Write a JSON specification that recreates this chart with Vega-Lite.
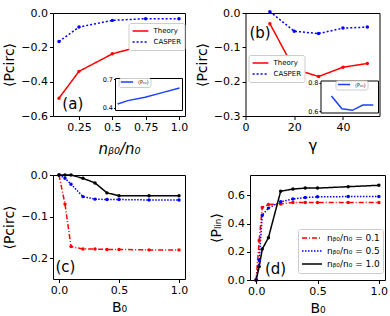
{
"$schema":"https://vega.github.io/schema/vega-lite/v6.json",
"padding":{"left":2,"top":6,"right":0,"bottom":0},
"config":{
 "font":"DejaVu Sans",
 "view":{"stroke":"black","strokeWidth":1},
 "axis":{"grid":false,"domain":false,"tickColor":"black","labelColor":"black","titleColor":"black","labelFontSize":11,"titleFontSize":14,"titleFontWeight":"normal","tickSize":3.5,"labelPadding":2,"labelFlush":false,"labelOverlap":false,"tickCount":10},
 "legend":{"labelFont":"DejaVu Sans","fillColor":"white","strokeColor":"#cccccc","cornerRadius":2,"padding":3,"symbolType":"stroke","symbolStrokeWidth":1.5,"labelColor":"black","rowPadding":1,"labelOffset":4}
},
"datasets":{
 "a_main":[
  {"series":"Theory","x":0.1,"y":-0.496},{"series":"Theory","x":0.25,"y":-0.34},{"series":"Theory","x":0.5,"y":-0.238},{"series":"Theory","x":0.75,"y":-0.186},{"series":"Theory","x":1.0,"y":-0.166},
  {"series":"CASPER","x":0.1,"y":-0.166},{"series":"CASPER","x":0.25,"y":-0.082},{"series":"CASPER","x":0.5,"y":-0.043},{"series":"CASPER","x":0.75,"y":-0.033},{"series":"CASPER","x":1.0,"y":-0.033}
 ],
 "a_inset":[
  {"series":"⟨Pₗᵢₙ⟩","x":0.1,"y":0.44},{"series":"⟨Pₗᵢₙ⟩","x":0.25,"y":0.475},{"series":"⟨Pₗᵢₙ⟩","x":0.5,"y":0.51},{"series":"⟨Pₗᵢₙ⟩","x":0.75,"y":0.56},{"series":"⟨Pₗᵢₙ⟩","x":1.0,"y":0.61}
 ],
 "b_main":[
  {"series":"Theory","x":10,"y":-0.031},{"series":"Theory","x":20,"y":-0.163},{"series":"Theory","x":30,"y":-0.185},{"series":"Theory","x":40,"y":-0.158},{"series":"Theory","x":50,"y":-0.147},
  {"series":"CASPER","x":10,"y":0.004},{"series":"CASPER","x":20,"y":-0.053},{"series":"CASPER","x":30,"y":-0.06},{"series":"CASPER","x":40,"y":-0.044},{"series":"CASPER","x":50,"y":-0.041}
 ],
 "b_inset":[
  {"series":"⟨Pₗᵢₙ⟩","x":10,"y":0.706},{"series":"⟨Pₗᵢₙ⟩","x":20,"y":0.616},{"series":"⟨Pₗᵢₙ⟩","x":30,"y":0.605},{"series":"⟨Pₗᵢₙ⟩","x":40,"y":0.642},{"series":"⟨Pₗᵢₙ⟩","x":50,"y":0.642}
 ],
 "c":[
  {"series":"nᵦ₀/n₀ = 0.1","x":0,"y":0},{"series":"nᵦ₀/n₀ = 0.1","x":0.05,"y":-0.07},{"series":"nᵦ₀/n₀ = 0.1","x":0.1,"y":-0.172},{"series":"nᵦ₀/n₀ = 0.1","x":0.2,"y":-0.178},{"series":"nᵦ₀/n₀ = 0.1","x":0.3,"y":-0.178},{"series":"nᵦ₀/n₀ = 0.1","x":0.4,"y":-0.179},{"series":"nᵦ₀/n₀ = 0.1","x":0.5,"y":-0.179},{"series":"nᵦ₀/n₀ = 0.1","x":0.75,"y":-0.18},{"series":"nᵦ₀/n₀ = 0.1","x":1.0,"y":-0.18},
  {"series":"nᵦ₀/n₀ = 0.5","x":0,"y":0},{"series":"nᵦ₀/n₀ = 0.5","x":0.05,"y":-0.008},{"series":"nᵦ₀/n₀ = 0.5","x":0.1,"y":-0.022},{"series":"nᵦ₀/n₀ = 0.5","x":0.2,"y":-0.052},{"series":"nᵦ₀/n₀ = 0.5","x":0.3,"y":-0.058},{"series":"nᵦ₀/n₀ = 0.5","x":0.4,"y":-0.059},{"series":"nᵦ₀/n₀ = 0.5","x":0.5,"y":-0.059},{"series":"nᵦ₀/n₀ = 0.5","x":0.75,"y":-0.06},{"series":"nᵦ₀/n₀ = 0.5","x":1.0,"y":-0.06},
  {"series":"nᵦ₀/n₀ = 1.0","x":0,"y":0},{"series":"nᵦ₀/n₀ = 1.0","x":0.05,"y":0},{"series":"nᵦ₀/n₀ = 1.0","x":0.1,"y":0},{"series":"nᵦ₀/n₀ = 1.0","x":0.2,"y":-0.008},{"series":"nᵦ₀/n₀ = 1.0","x":0.3,"y":-0.019},{"series":"nᵦ₀/n₀ = 1.0","x":0.4,"y":-0.043},{"series":"nᵦ₀/n₀ = 1.0","x":0.5,"y":-0.05},{"series":"nᵦ₀/n₀ = 1.0","x":0.75,"y":-0.05},{"series":"nᵦ₀/n₀ = 1.0","x":1.0,"y":-0.05}
 ],
 "d":[
  {"series":"nᵦ₀/n₀ = 0.1","x":0,"y":0},{"series":"nᵦ₀/n₀ = 0.1","x":0.025,"y":0.28},{"series":"nᵦ₀/n₀ = 0.1","x":0.05,"y":0.515},{"series":"nᵦ₀/n₀ = 0.1","x":0.1,"y":0.535},{"series":"nᵦ₀/n₀ = 0.1","x":0.2,"y":0.54},{"series":"nᵦ₀/n₀ = 0.1","x":0.3,"y":0.55},{"series":"nᵦ₀/n₀ = 0.1","x":0.4,"y":0.55},{"series":"nᵦ₀/n₀ = 0.1","x":0.5,"y":0.55},{"series":"nᵦ₀/n₀ = 0.1","x":0.75,"y":0.55},{"series":"nᵦ₀/n₀ = 0.1","x":1.0,"y":0.55},
  {"series":"nᵦ₀/n₀ = 0.5","x":0,"y":0},{"series":"nᵦ₀/n₀ = 0.5","x":0.025,"y":0.14},{"series":"nᵦ₀/n₀ = 0.5","x":0.05,"y":0.46},{"series":"nᵦ₀/n₀ = 0.5","x":0.1,"y":0.51},{"series":"nᵦ₀/n₀ = 0.5","x":0.2,"y":0.555},{"series":"nᵦ₀/n₀ = 0.5","x":0.3,"y":0.575},{"series":"nᵦ₀/n₀ = 0.5","x":0.4,"y":0.585},{"series":"nᵦ₀/n₀ = 0.5","x":0.5,"y":0.59},{"series":"nᵦ₀/n₀ = 0.5","x":0.75,"y":0.592},{"series":"nᵦ₀/n₀ = 0.5","x":1.0,"y":0.592},
  {"series":"nᵦ₀/n₀ = 1.0","x":0,"y":0},{"series":"nᵦ₀/n₀ = 1.0","x":0.025,"y":0.095},{"series":"nᵦ₀/n₀ = 1.0","x":0.05,"y":0.22},{"series":"nᵦ₀/n₀ = 1.0","x":0.1,"y":0.3},{"series":"nᵦ₀/n₀ = 1.0","x":0.2,"y":0.63},{"series":"nᵦ₀/n₀ = 1.0","x":0.3,"y":0.645},{"series":"nᵦ₀/n₀ = 1.0","x":0.4,"y":0.652},{"series":"nᵦ₀/n₀ = 1.0","x":0.5,"y":0.652},{"series":"nᵦ₀/n₀ = 1.0","x":0.75,"y":0.662},{"series":"nᵦ₀/n₀ = 1.0","x":1.0,"y":0.672}
 ]
},
"spacing":11,
"resolve":{"scale":{"color":"independent","strokeDash":"independent"},"legend":{"color":"independent","strokeDash":"independent"}},
"vconcat":[
 {"bounds":"flush","spacing":60.5,
  "resolve":{"scale":{"color":"independent","strokeDash":"independent"},"legend":{"color":"independent","strokeDash":"independent"}},
  "hconcat":[
  {"width":132,"height":103,
   "resolve":{"scale":{"x":"independent","y":"independent","color":"independent"},"legend":{"color":"independent"}},
   "layer":[
    {"layer":[
     {"data":{"name":"a_main"},"mark":{"type":"line","strokeWidth":1.5,"point":{"filled":true,"size":12}},
      "encoding":{
       "x":{"field":"x","type":"quantitative","scale":{"domain":[0.055,1.045],"nice":false,"zero":false},"axis":{"values":[0.25,0.5,0.75,1],"tickCount":10,"labelOverlap":false,"labelExpr":"datum.value==1?'1.0':format(datum.value,'.2~f')","title":"nᵦ₀/n₀","titleFontStyle":"italic","titleFontSize":15,"titlePadding":9}},
       "y":{"field":"y","type":"quantitative","scale":{"domain":[-0.6,0],"nice":false},"axis":{"values":[-0.6,-0.4,-0.2,0],"tickCount":10,"labelOverlap":false,"format":".1f","title":"⟨Pcirc⟩","titlePadding":4}},
       "color":{"field":"series","type":"nominal","scale":{"domain":["Theory","CASPER"],"range":["#ff0000","#0000ff"]},"title":null,"legend":{"orient":"none","legendX":75.5,"legendY":10,"labelFontSize":7,"symbolSize":250,"clipHeight":10,"encode":{"symbols":{"update":{"strokeDash":{"signal":"datum.value=='CASPER'?[2,2]:[1,0]"}}}}}},
       "strokeDash":{"field":"series","type":"nominal","scale":{"domain":["Theory","CASPER"],"range":[[1,0],[2,2]]},"legend":null}
      }},
     {"data":{"values":[{"label":"(a)"}]},"mark":{"type":"text","align":"left","baseline":"middle","fontSize":15,"color":"black"},
      "encoding":{"x":{"datum":0.125,"type":"quantitative"},"y":{"datum":-0.53,"type":"quantitative"},"text":{"field":"label"}}}
    ]},
    {"layer":[
     {"data":{"values":[{"box":1}]},"mark":{"type":"rect","fill":"white","stroke":"black","strokeWidth":1},
      "encoding":{
       "x":{"datum":0.07,"type":"quantitative","scale":{"domain":[0.07,1.043],"range":[62.5,129.5],"nice":false,"zero":false},"axis":null},
       "x2":{"datum":1.043},
       "y":{"datum":0.37,"type":"quantitative","scale":{"domain":[0.37,0.71],"range":[97.5,65.5],"nice":false,"zero":false},"axis":{"orient":"left","offset":-62.5,"values":[0.4,0.7],"labelOverlap":false,"format":".1f","labelFontSize":6.5,"tickSize":2,"labelPadding":1,"title":null}},
       "y2":{"datum":0.71}
      }},
     {"data":{"name":"a_inset"},"mark":{"type":"line","strokeWidth":1.5},
      "encoding":{"x":{"field":"x","type":"quantitative"},"y":{"field":"y","type":"quantitative"},
       "color":{"field":"series","type":"nominal","scale":{"range":["#1f3fff"]},"title":null,"legend":{"orient":"none","legendX":65.5,"legendY":65,"labelFontSize":5,"symbolSize":150,"clipHeight":5,"padding":1.5}}}}
    ]}
   ]},
  {"width":134,"height":103,
   "resolve":{"scale":{"x":"independent","y":"independent","color":"independent"},"legend":{"color":"independent"}},
   "layer":[
    {"layer":[
     {"data":{"name":"b_main"},"mark":{"type":"line","strokeWidth":1.5,"point":{"filled":true,"size":12}},
      "encoding":{
       "x":{"field":"x","type":"quantitative","scale":{"domain":[0,55],"nice":false,"zero":false},"axis":{"values":[0,20,40],"tickCount":10,"labelOverlap":false,"format":"d","title":"γ","titleFontSize":15,"titlePadding":6}},
       "y":{"field":"y","type":"quantitative","scale":{"domain":[-0.3,0],"nice":false},"axis":{"values":[-0.3,-0.2,-0.1,0],"tickCount":10,"labelOverlap":false,"format":".1f","title":"⟨Pcirc⟩","titlePadding":4}},
       "color":{"field":"series","type":"nominal","scale":{"domain":["Theory","CASPER"],"range":["#ff0000","#0000ff"]},"title":null,"legend":{"orient":"none","legendX":3,"legendY":42,"labelFontSize":7,"symbolSize":250,"clipHeight":10,"encode":{"symbols":{"update":{"strokeDash":{"signal":"datum.value=='CASPER'?[2,2]:[1,0]"}}}}}},
       "strokeDash":{"field":"series","type":"nominal","scale":{"domain":["Theory","CASPER"],"range":[[1,0],[2,2]]},"legend":null}
      }},
     {"data":{"values":[{"label":"(b)"}]},"mark":{"type":"text","align":"left","baseline":"middle","fontSize":15,"color":"black"},
      "encoding":{"x":{"datum":1.6,"type":"quantitative"},"y":{"datum":-0.057,"type":"quantitative"},"text":{"field":"label"}}}
    ]},
    {"layer":[
     {"data":{"values":[{"box":1}]},"mark":{"type":"rect","fill":"white","stroke":"black","strokeWidth":1},
      "encoding":{
       "x":{"datum":0,"type":"quantitative","scale":{"domain":[0,55],"range":[75.5,133],"nice":false,"zero":false},"axis":null},
       "x2":{"datum":55},
       "y":{"datum":0.586,"type":"quantitative","scale":{"domain":[0.586,0.812],"range":[100,68],"nice":false,"zero":false},"axis":{"orient":"left","offset":-75.5,"values":[0.6,0.8],"labelOverlap":false,"format":".1f","labelFontSize":6.5,"tickSize":2,"labelPadding":1,"title":null}},
       "y2":{"datum":0.812}
      }},
     {"data":{"name":"b_inset"},"mark":{"type":"line","strokeWidth":1.5},
      "encoding":{"x":{"field":"x","type":"quantitative"},"y":{"field":"y","type":"quantitative"},
       "color":{"field":"series","type":"nominal","scale":{"range":["#1f3fff"]},"title":null,"legend":{"orient":"none","legendX":90,"legendY":67.5,"labelFontSize":5,"symbolSize":150,"clipHeight":5,"padding":1.5}}}}
    ]}
   ]}
 ]},
 {"bounds":"flush","spacing":65,
  "resolve":{"scale":{"color":"independent","strokeDash":"independent"},"legend":{"color":"independent","strokeDash":"independent"}},
  "hconcat":[
  {"width":132,"height":104,
   "layer":[
     {"data":{"name":"c"},"mark":{"type":"line","strokeWidth":1.5,"point":{"filled":true,"size":12}},
      "encoding":{
       "x":{"field":"x","type":"quantitative","scale":{"domain":[-0.05,1.05],"nice":false,"zero":false},"axis":{"values":[0,0.5,1],"tickCount":10,"labelOverlap":false,"format":".1f","title":"B₀","titleFontSize":14,"titlePadding":5}},
       "y":{"field":"y","type":"quantitative","scale":{"domain":[-0.25,0],"nice":false},"axis":{"values":[-0.2,-0.1,0],"tickCount":10,"labelOverlap":false,"format":".1f","title":"⟨Pcirc⟩","titlePadding":4}},
       "color":{"field":"series","type":"nominal","scale":{"domain":["nᵦ₀/n₀ = 0.1","nᵦ₀/n₀ = 0.5","nᵦ₀/n₀ = 1.0"],"range":["#ff0000","#0000ff","#000000"]},"legend":null},
       "strokeDash":{"field":"series","type":"nominal","scale":{"domain":["nᵦ₀/n₀ = 0.1","nᵦ₀/n₀ = 0.5","nᵦ₀/n₀ = 1.0"],"range":[[5,2,1,2],[1.5,1.5],[1,0]]},"legend":null}
      }},
     {"data":{"values":[{"label":"(c)"}]},"mark":{"type":"text","align":"left","baseline":"middle","fontSize":15,"color":"black"},
      "encoding":{"x":{"datum":-0.03,"type":"quantitative"},"y":{"datum":-0.221,"type":"quantitative"},"text":{"field":"label"}}}
   ]},
  {"width":135,"height":105,
   "layer":[
     {"data":{"name":"d"},"mark":{"type":"line","strokeWidth":1.5,"point":{"filled":true,"size":12}},
      "encoding":{
       "x":{"field":"x","type":"quantitative","scale":{"domain":[-0.05,1.05],"nice":false,"zero":false},"axis":{"values":[0,0.5,1],"tickCount":10,"labelOverlap":false,"format":".1f","title":"B₀","titleFontSize":14,"titlePadding":5}},
       "y":{"field":"y","type":"quantitative","scale":{"domain":[0,0.745],"nice":false},"axis":{"values":[0,0.2,0.4,0.6],"tickCount":10,"labelOverlap":false,"format":".1f","title":"⟨Pₗᵢₙ⟩","titlePadding":4}},
       "color":{"field":"series","type":"nominal","scale":{"domain":["nᵦ₀/n₀ = 0.1","nᵦ₀/n₀ = 0.5","nᵦ₀/n₀ = 1.0"],"range":["#ff0000","#0000ff","#000000"]},"title":null,"legend":{"orient":"none","legendX":48,"legendY":54,"labelFontSize":9,"symbolSize":400,"clipHeight":12,"encode":{"symbols":{"update":{"strokeDash":{"signal":"datum.value=='nᵦ₀/n₀ = 0.1'?[5,2,1,2]:datum.value=='nᵦ₀/n₀ = 0.5'?[1.5,1.5]:[1,0]"}}}}}},
       "strokeDash":{"field":"series","type":"nominal","scale":{"domain":["nᵦ₀/n₀ = 0.1","nᵦ₀/n₀ = 0.5","nᵦ₀/n₀ = 1.0"],"range":[[5,2,1,2],[1.5,1.5],[1,0]]},"legend":null}
      }},
     {"data":{"values":[{"label":"(d)"}]},"mark":{"type":"text","align":"left","baseline":"middle","fontSize":15,"color":"black"},
      "encoding":{"x":{"datum":0.072,"type":"quantitative"},"y":{"datum":0.08,"type":"quantitative"},"text":{"field":"label"}}}
   ]}
 ]}
]
}
